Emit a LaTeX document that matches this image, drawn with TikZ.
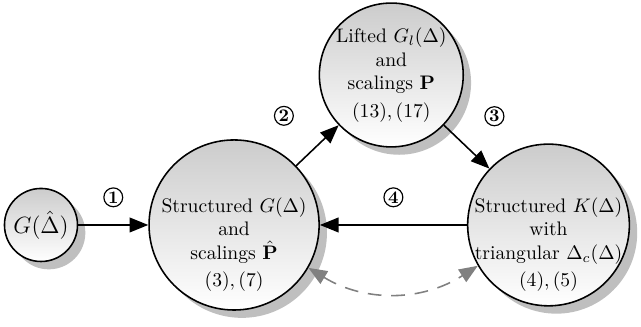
\documentclass[tikz,border=0pt]{standalone}
\usepackage{amsmath,amssymb}
\usepackage{tikz}
\usetikzlibrary{positioning,arrows.meta,shadows,calc}

\begin{document}
\begin{tikzpicture}[
    >={Triangle[length=9.5pt,width=7.5pt]},
    state/.style={circle, draw, thick, align=center, inner sep=-3pt,
        top color=gray!40, bottom color=white,
        drop shadow={shadow xshift=4pt, shadow yshift=-4pt, fill=black!25, opacity=1}},
    caption/.style={align=center, inner sep=0pt},
    flow/.style={->, thick},
    backflow/.style={<->, thick, gray, dash pattern=on 7pt off 5pt},
    num/.style={circle, draw, semithick, inner sep=0.6pt, font=\small\bfseries}
]
\useasboundingbox (0,0) rectangle (11.496,5.864);

% uncertain plant
\node[state, minimum size=1.31cm, font=\large] (plant) at (0.735,1.829) {$G(\hat{\Delta})$};

% structured model with scalings
\node[state, minimum size=3.05cm, right=1.255cm of plant] (structG) {};
\node[caption, yshift=-10pt] (structGtext) at (structG) {Structured $G(\Delta)$\\and\\scalings $\hat{\mathbf{P}}$\\[2pt]$(3),(7)$};

% structured controller
\node[state, minimum size=2.9cm, right=2.636cm of structG] (structK) {};
\node[caption, yshift=-10pt] (structKtext) at (structK) {Structured $K(\Delta)$\\with\\triangular $\Delta_c(\Delta)$\\[2pt]$(4),(5)$};

% lifted model
\node[state, minimum size=2.58cm] (lifted) at ($(structG)!0.5!(structK)+(0,2.69)$) {};
\node[caption] (liftedtext) at (lifted) {Lifted $G_l(\Delta)$\\and\\scalings $\mathbf{P}$\\[2pt]$(13),(17)$};

% steps
\draw[flow] (plant) -- node[num, above=9pt] (s1) {1} (structG);
\draw[flow] (structG) -- node[num, above left=11.5pt and 13.5pt] (s2) {2} (lifted);
\draw[flow] (lifted) -- node[num, above right=12pt and 10.5pt] (s3) {3} (structK);
\draw[flow] (structK) -- node[num, above=9pt] (s4) {4} (structG);

% back and forth
\draw[backflow] (structG.-30) to[bend right=32] (structK.210);

\end{tikzpicture}
\end{document}
